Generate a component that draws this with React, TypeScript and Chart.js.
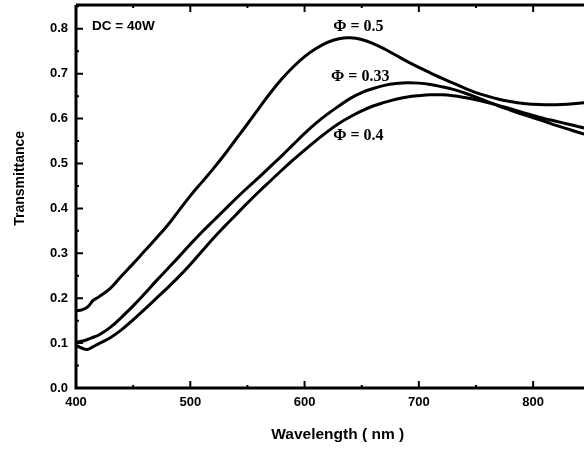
import React, { useEffect, useRef } from "react";
import { Chart, registerables } from "chart.js";

Chart.register(...registerables);

const wavelengths = [400, 405, 410, 415, 420, 430, 440, 450, 460, 470, 480, 490, 500, 510, 520, 530, 540, 550, 560, 570, 580, 590, 600, 610, 620, 630, 640, 650, 660, 670, 680, 690, 700, 710, 720, 730, 740, 750, 760, 770, 780, 790, 800, 810, 820, 830, 840, 850];

const tPhi05 = [0.172, 0.174, 0.18, 0.195, 0.203, 0.222, 0.25, 0.277, 0.305, 0.333, 0.362, 0.395, 0.428, 0.458, 0.488, 0.52, 0.554, 0.588, 0.623, 0.657, 0.688, 0.715, 0.738, 0.756, 0.77, 0.778, 0.78, 0.776, 0.767, 0.755, 0.741, 0.727, 0.714, 0.702, 0.69, 0.679, 0.668, 0.658, 0.65, 0.643, 0.638, 0.634, 0.632, 0.631, 0.631, 0.632, 0.634, 0.637];

const tPhi033 = [0.102, 0.104, 0.108, 0.113, 0.118, 0.135, 0.158, 0.183, 0.21, 0.238, 0.265, 0.292, 0.32, 0.347, 0.372, 0.397, 0.422, 0.446, 0.469, 0.493, 0.517, 0.542, 0.567, 0.59, 0.61, 0.628, 0.645, 0.658, 0.667, 0.674, 0.678, 0.68, 0.679, 0.676, 0.671, 0.665, 0.657, 0.648, 0.638, 0.628, 0.619, 0.61, 0.602, 0.594, 0.585, 0.577, 0.569, 0.562];

const tPhi04 = [0.095, 0.089, 0.086, 0.092, 0.099, 0.112, 0.13, 0.152, 0.175, 0.199, 0.223, 0.248, 0.275, 0.304, 0.333, 0.36, 0.386, 0.412, 0.437, 0.461, 0.485, 0.508, 0.53, 0.551, 0.571, 0.589, 0.604, 0.617, 0.628, 0.636, 0.643, 0.648, 0.651, 0.653, 0.653, 0.651, 0.647, 0.642, 0.636, 0.629, 0.622, 0.614, 0.607, 0.6, 0.594, 0.588, 0.582, 0.576];

const seriesNames = ["Φ = 0.5", "Φ = 0.33", "Φ = 0.4"];
const xTickLabels = [400, 500, 600, 700, 800];
const yTickLabels = [0.0, 0.1, 0.2, 0.3, 0.4, 0.5, 0.6, 0.7, 0.8];
const xTitle = "Wavelength ( nm )";
const yTitle = "Transmittance";

const SANS = "'Liberation Sans', Arial, sans-serif";
const SERIF = "'Liberation Serif', 'Times New Roman', serif";

const toPoints = (ys: number[]) => wavelengths.map((x, i) => ({ x, y: ys[i] }));

const frameAndLabels = {
  id: "frameAndLabels",
  afterDatasetsDraw(chart: any) {
    const { ctx, chartArea, scales } = chart;
    const xs = scales.x;
    const ys = scales.y;
    const { left, right, top, bottom } = chartArea;
    ctx.save();
    ctx.strokeStyle = "#000";
    ctx.lineWidth = 3;
    ctx.beginPath();
    ctx.moveTo(left, top);
    ctx.lineTo(left, bottom);
    ctx.lineTo(right, bottom);
    ctx.moveTo(left, top);
    ctx.lineTo(right, top);
    ctx.stroke();

    ctx.lineWidth = 2;
    ctx.beginPath();
    for (let v = 400; v <= 850; v += 50) {
      const px = xs.getPixelForValue(v);
      if (px > right) break;
      const len = v % 100 === 0 ? 7 : 3;
      ctx.moveTo(px, bottom);
      ctx.lineTo(px, bottom - len);
      ctx.moveTo(px, top);
      ctx.lineTo(px, top + len);
    }
    for (let k = 0; k <= 17; k++) {
      const v = k * 0.05;
      const py = ys.getPixelForValue(v);
      if (py < top) break;
      const len = k % 2 === 0 ? 7 : 3;
      ctx.moveTo(left, py);
      ctx.lineTo(left + len, py);
    }
    ctx.stroke();

    ctx.fillStyle = "#000";
    ctx.textBaseline = "middle";
    ctx.textAlign = "left";
    ctx.font = `bold 16px ${SERIF}`;
    ctx.fillText(seriesNames[0], xs.getPixelForValue(625), ys.getPixelForValue(0.804));
    ctx.fillText(seriesNames[1], xs.getPixelForValue(623.2), ys.getPixelForValue(0.6925));
    ctx.fillText(seriesNames[2], xs.getPixelForValue(625), ys.getPixelForValue(0.561));
    ctx.font = `bold 13.5px ${SANS}`;
    ctx.fillText("DC = 40W", xs.getPixelForValue(414), ys.getPixelForValue(0.806));

    // axis titles
    ctx.textAlign = "center";
    ctx.font = `bold 15.5px ${SANS}`;
    ctx.fillText(xTitle, xs.getPixelForValue(629), 435);
    ctx.save();
    ctx.translate(20, ys.getPixelForValue(0.467));
    ctx.rotate(-Math.PI / 2);
    ctx.font = `bold 14px ${SANS}`;
    ctx.fillText(yTitle, 0, 0);
    ctx.restore();
    ctx.restore();
  },
};

export default function App() {
  const ref = useRef<HTMLCanvasElement | null>(null);

  useEffect(() => {
    if (!ref.current) return;
    const mk = (ys: number[], label: string) => ({
      label,
      data: toPoints(ys),
      borderColor: "#000",
      backgroundColor: "#000",
      borderWidth: 3,
      pointRadius: 0,
      tension: 0.4,
      fill: false,
    });
    const chart = new Chart(ref.current, {
      type: "line",
      data: {
        datasets: [mk(tPhi05, seriesNames[0]), mk(tPhi033, seriesNames[1]), mk(tPhi04, seriesNames[2])],
      },
      options: {
        animation: false,
        responsive: false,
        devicePixelRatio: 1,
        layout: { padding: { top: 5, left: 0, right: 0, bottom: 0 } },
        plugins: { legend: { display: false }, tooltip: { enabled: false } },
        scales: {
          x: {
            type: "linear",
            min: 400,
            max: 844.5,
            grid: { display: false, drawTicks: false },
            border: { display: false },
            afterFit: (s: any) => {
              s.height = 62;
              s.paddingRight = 0;
            },
            afterBuildTicks: (s: any) => {
              s.ticks = xTickLabels.map((v) => ({ value: v }));
            },
            ticks: {
              includeBounds: false,
              stepSize: 100,
              maxRotation: 0,
              padding: 7,
              color: "#000",
              font: { family: SANS, size: 13, weight: "bold" },
              callback: (v: any) => String(v),
            },
            title: { display: false },
          },
          y: {
            type: "linear",
            min: 0,
            max: 0.853,
            grid: { display: false, drawTicks: false },
            border: { display: false },
            afterFit: (s: any) => {
              s.width = 76;
              s.paddingTop = 0;
              s.paddingBottom = 0;
            },
            afterBuildTicks: (s: any) => {
              s.ticks = yTickLabels.map((v) => ({ value: v }));
            },
            ticks: {
              includeBounds: false,
              stepSize: 0.1,
              padding: 8,
              color: "#000",
              font: { family: SANS, size: 13, weight: "bold" },
              callback: (v: any) => Number(v).toFixed(1),
            },
            title: { display: false },
          },
        },
      },
      plugins: [frameAndLabels],
    });
    return () => chart.destroy();
  }, []);

  return (
    <div style={{ position: "absolute", left: 0, top: 0, width: 584, height: 450, overflow: "hidden", background: "#fff" }}>
      <canvas ref={ref} width={584} height={450} style={{ display: "block", width: 584, height: 450 }} />
    </div>
  );
}
